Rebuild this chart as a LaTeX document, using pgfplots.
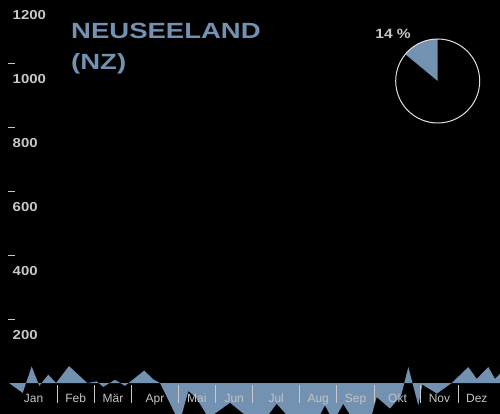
\documentclass[border=0pt]{standalone}
\usepackage{fontspec}
\setmainfont{Liberation Sans}
\newfontfamily\widefont{Liberation Sans}[FakeStretch=1.25]
\newfontfamily\tickfont{Liberation Sans}[FakeStretch=1.15]
\usepackage{pgfplots}
\pgfplotsset{compat=1.18}
\definecolor{nzblue}{HTML}{7391B1}
\definecolor{labgray}{HTML}{C8C8C8}
\definecolor{monthgray}{HTML}{C4C4C4}

\begin{document}
\begin{tikzpicture}
\fill[black] (0,0) rectangle (500pt,414pt);
\begin{axis}[
  at={(0,0)}, anchor=south west,
  scale only axis, width=500pt, height=414pt,
  xmin=-1.104, xmax=52.487, ymin=-97.1, ymax=1200,
  axis line style={draw=none},
  axis on top,
  ytick={200,400,600,800,1000,1200},
  ytick pos=left, xtick pos=bottom,
  tick align=inside,
  major tick length=6.7pt,
  ytick style={draw=labgray, line width=1pt, xshift=8.3pt},
  yticklabel style={anchor=west, inner sep=0pt, xshift=12.5pt, yshift=-15.5pt,
    font=\tickfont\bfseries\fontsize{13}{13}\selectfont, text=labgray},
  /pgf/number format/assume math mode=true,
  /pgf/number format/set thousands separator={},
  xtick={2.5,7,11,15.5,20,24,28.5,33,37,41.5,46,50},
  xticklabels={Jan,Feb,Mär,Apr,Mai,Jun,Jul,Aug,Sep,Okt,Nov,Dez},
  xtick style={draw=none},
  xticklabel style={anchor=base, yshift=11.3pt, inner sep=0pt,
    font=\fontsize{12}{12}\selectfont, text=monthgray},
  extra x ticks={5,9,13,18,22,26,31,35,39,44,48},
  extra x tick labels={},
  extra x tick style={major tick length=18pt,
    xtick style={draw=labgray, line width=0.8pt, yshift=11pt}},
]
\addplot[fill=nzblue, draw=none] coordinates {
(-0.14,0) (1.33,-31) (2.29,52) (3.11,-9) (4.07,26) (4.90,0) (6.29,53)
(8.25,0) (9.26,5) (9.97,-12) (11.22,10) (12.29,-9) (14.36,39) (15.29,12)
(16.05,0) (17.97,-115) (18.37,-100) (19.08,-25) (19.90,-45) (21.05,-100)
(21.73,-100) (23.55,-62) (25.16,-100) (27.65,-100) (28.55,-65) (29.62,-100)
(33.19,-100) (33.73,-70) (34.26,-100) (35.02,-100) (35.69,-65) (36.41,-100)
(38.74,-100) (39.27,-44) (40.69,-80) (41.88,-40) (42.66,50) (43.73,-70)
(44.16,-5) (45.73,-33) (47.31,0) (49.09,50) (49.99,13) (51.23,50)
(51.95,13) (53.02,45)
} \closedcycle;
\end{axis}
\node[anchor=base west, inner sep=0pt, text=nzblue,
  font=\widefont\bfseries\fontsize{22}{22}\selectfont] at (71pt,375pt) {NEUSEELAND};
\node[anchor=base west, inner sep=0pt, text=nzblue,
  font=\widefont\bfseries\fontsize{22}{22}\selectfont] at (71pt,344pt) {(NZ)};
\node[anchor=east, inner sep=0pt, text=labgray,
  font=\tickfont\bfseries\fontsize{13.5}{13.5}\selectfont] at (411pt,380pt) {14 \%};
\fill[nzblue] (437.7pt,333pt) -- ++(90:42pt) arc[start angle=90, end angle=140.4, radius=42pt] -- cycle;
\draw[white!88!black, line width=1pt] (437.7pt,333pt) circle (42pt);
\pgfresetboundingbox
\path[use as bounding box] (0,0) rectangle (500pt,414pt);
\end{tikzpicture}
\end{document}
